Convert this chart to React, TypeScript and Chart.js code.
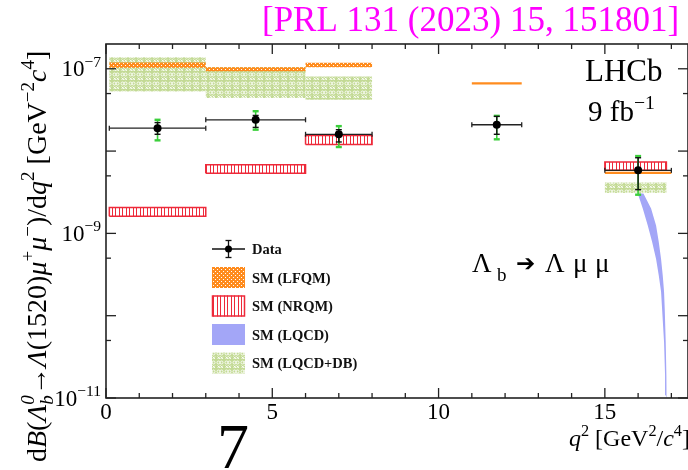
import React, { useEffect, useRef } from "react";
import { Chart, registerables } from "chart.js";

Chart.register(...registerables);

const W = 692;
const H = 470;
const SERIF = '"Liberation Serif", "DejaVu Serif", serif';

// q^2 binning of the measurement [GeV^2/c^4]
const binLo = [0.1, 3.0, 6.0, 11.0, 15.0];
const binHi = [3.0, 6.0, 8.0, 12.5, 17.0];
// measured dB/dq^2 with statistical and total uncertainties
const dataQ2 = [1.55, 4.5, 7.0, 11.75, 16.0];
const dataVal = [1.9e-8, 2.4e-8, 1.6e-8, 2.09e-8, 5.83e-9];
const statLo = [1.6e-8, 1.94e-8, 1.29e-8, 1.6e-8, 3.4e-9];
const statHi = [2.22e-8, 2.71e-8, 1.82e-8, 2.64e-8, 8.3e-9];
const totLo = [1.35e-8, 1.82e-8, 1.12e-8, 1.39e-8, 2.95e-9];
const totHi = [2.4e-8, 3.05e-8, 2.01e-8, 2.68e-8, 8.7e-9];

// SM (LFQM) bin predictions
const lfqmLo = [0.1, 3.0, 6.0, 11.0, 15.0];
const lfqmHi = [3.0, 6.0, 8.0, 12.5, 17.0];
const lfqmMin = [1.03e-7, 9.35e-8, 1.045e-7, 6.45e-8, 5.25e-9];
const lfqmMax = [1.19e-7, 1.046e-7, 1.18e-7, 6.85e-8, 5.6e-9];

// SM (NRQM) bin predictions
const nrqmLo = [0.1, 3.0, 6.0, 15.0];
const nrqmHi = [3.0, 6.0, 8.0, 16.85];
const nrqmMin = [1.61e-9, 5.36e-9, 1.2e-8, 5.83e-9];
const nrqmMax = [2.06e-9, 6.84e-9, 1.55e-8, 7.36e-9];

// SM (LQCD+DB) bin predictions
const dbLo = [0.1, 3.0, 6.0, 15.0];
const dbHi = [3.0, 6.0, 8.0, 16.85];
const dbMin = [5.3e-8, 4.4e-8, 4.21e-8, 3.09e-9];
const dbMax = [1.38e-7, 1.05e-7, 8.06e-8, 4.14e-9];

// SM (LQCD) band: upper and lower edges close to the kinematic endpoint
const lqcdUpQ2 = [15.99, 16.16, 16.39, 16.54, 16.62, 16.69, 16.74, 16.78, 16.8, 16.83, 16.85, 16.86];
const lqcdUp = [3.05e-9, 3.05e-9, 2.0e-9, 1.25e-9, 7.9e-10, 4.9e-10, 3.1e-10, 1.95e-10, 1.22e-10, 4.8e-11, 1.9e-11, 1.0e-11];
const lqcdLowQ2 = [15.99, 16.14, 16.29, 16.42, 16.54, 16.62, 16.69, 16.72, 16.78, 16.81, 16.83, 16.85];
const lqcdLow = [3.05e-9, 2.0e-9, 1.25e-9, 7.9e-10, 4.9e-10, 3.1e-10, 1.95e-10, 1.22e-10, 4.8e-11, 1.9e-11, 1.08e-11, 1.0e-11];

const xTickLabels = [0, 5, 10, 15];
const yLabelExps = [-11, -9, -7];
const legendLabels = ["Data", "SM (LFQM)", "SM (NRQM)", "SM (LQCD)", "SM (LQCD+DB)"];

const ORANGE = "#ff8c1e";
const RED = "#ee2a3a";
const BLUE = "#a3a6f7";
const GREEN = "#c3da95";
const ERR_GREEN = "#3bcf3b";

type Run = { t?: string; it?: boolean; up?: boolean; dn?: boolean; stack?: [string, string] };

const font = (size: number, it?: boolean, bold?: boolean) =>
  `${it ? "italic " : ""}${bold ? "bold " : ""}${size}px ${SERIF}`;

function rich(ctx: CanvasRenderingContext2D, runs: Run[], x: number, y: number, size: number, draw: boolean) {
  let cx = x;
  const small = size * 0.68;
  for (const r of runs) {
    if (r.stack) {
      ctx.font = font(small, r.it);
      const [lo, hi] = r.stack;
      const w = Math.max(ctx.measureText(lo).width, ctx.measureText(hi).width);
      if (draw) {
        ctx.fillText(lo, cx, y + size * 0.25);
        ctx.fillText(hi, cx, y - size * 0.42);
      }
      cx += w;
      continue;
    }
    const t = r.t || "";
    const s = r.up || r.dn ? small : size;
    ctx.font = font(s, r.it);
    if (draw) ctx.fillText(t, cx, y + (r.up ? -size * 0.42 : r.dn ? size * 0.25 : 0));
    cx += ctx.measureText(t).width;
  }
  return cx - x;
}

function tile(w: number, h: number, paint: (g: CanvasRenderingContext2D) => void) {
  const c = document.createElement("canvas");
  c.width = w;
  c.height = h;
  const g = c.getContext("2d")!;
  paint(g);
  return g.createPattern(c, "repeat")!;
}

function makePatterns() {
  const orange = tile(4, 4, (g) => {
    g.fillStyle = ORANGE;
    g.fillRect(0, 0, 4, 4);
    g.fillStyle = "#ffffff";
    g.fillRect(1, 1, 1, 1);
    g.fillRect(3, 3, 1, 1);
  });
  const red = tile(7, 1, (g) => {
    g.fillStyle = "#ffffff";
    g.fillRect(0, 0, 7, 1);
    g.fillStyle = RED;
    g.fillRect(0, 0, 1, 1);
    g.fillRect(3, 0, 1, 1);
  });
  const green = tile(8, 9, (g) => {
    g.fillStyle = GREEN;
    g.fillRect(0, 0, 8, 9);
    g.strokeStyle = "rgba(255,255,255,0.85)";
    g.lineWidth = 1;
    g.beginPath();
    g.arc(2.5, 2.5, 1.5, 0, Math.PI * 2);
    g.moveTo(7, 2.5);
    g.arc(5.5, 2.5, 1.5, 0, Math.PI * 2);
    g.moveTo(1.5, 5.5);
    g.lineTo(4, 8);
    g.moveTo(4, 5.5);
    g.lineTo(1.5, 8);
    g.moveTo(4.5, 5.5);
    g.lineTo(7, 8);
    g.moveTo(7, 5.5);
    g.lineTo(4.5, 8);
    g.stroke();
  });
  return { orange, red, green };
}

const rect = (x0: number, x1: number, y0: number, y1: number) => [
  { x: x0, y: y0 },
  { x: x1, y: y0 },
  { x: x1, y: y1 },
  { x: x0, y: y1 },
  { x: x0, y: y0 },
];

function boxSets(
  lo: number[],
  hi: number[],
  mn: number[],
  mx: number[],
  fill: (ratio: number) => any,
  border: string,
  bw: number,
  order: number
) {
  return lo.map((l, i) => ({
    type: "line",
    data: rect(l, hi[i], mn[i], mx[i]),
    fill: "shape",
    backgroundColor: fill(mx[i] / mn[i]),
    borderColor: border,
    borderWidth: bw,
    pointRadius: 0,
    tension: 0,
    order,
  }));
}

function line(ctx: CanvasRenderingContext2D, x0: number, y0: number, x1: number, y1: number) {
  ctx.beginPath();
  ctx.moveTo(x0, y0);
  ctx.lineTo(x1, y1);
  ctx.stroke();
}

function drawErrorBars(chart: any) {
  const { ctx } = chart;
  const xs = chart.scales.x;
  const ys = chart.scales.y;
  ctx.save();
  dataQ2.forEach((q, i) => {
    const px = xs.getPixelForValue(q);
    const py = ys.getPixelForValue(dataVal[i]);
    const xl = xs.getPixelForValue(binLo[i]);
    const xr = xs.getPixelForValue(binHi[i]);
    // bin width
    ctx.strokeStyle = "#222";
    ctx.lineWidth = 1.3;
    line(ctx, xl, py, xr, py);
    line(ctx, xl, py - 2.5, xl, py + 2.5);
    line(ctx, xr, py - 2.5, xr, py + 2.5);
    // total uncertainty
    const tHi = ys.getPixelForValue(totHi[i]);
    const tLo = ys.getPixelForValue(totLo[i]);
    ctx.strokeStyle = ERR_GREEN;
    ctx.lineWidth = 1.6;
    line(ctx, px, tHi, px, tLo);
    ctx.lineWidth = 2.4;
    line(ctx, px - 3, tHi, px + 3, tHi);
    line(ctx, px - 3, tLo, px + 3, tLo);
    // statistical uncertainty
    const sHi = ys.getPixelForValue(statHi[i]);
    const sLo = ys.getPixelForValue(statLo[i]);
    ctx.strokeStyle = "#111";
    ctx.lineWidth = 1.4;
    line(ctx, px, sHi, px, sLo);
    line(ctx, px - 3, sHi, px + 3, sHi);
    line(ctx, px - 3, sLo, px + 3, sLo);
  });
  ctx.restore();
}

function drawFrame(chart: any) {
  const { ctx, chartArea: a } = chart;
  const xs = chart.scales.x;
  const ys = chart.scales.y;
  ctx.save();
  ctx.strokeStyle = "#222";
  ctx.lineWidth = 1.3;
  for (let q = 0; q <= Math.floor(xs.max); q++) {
    const px = xs.getPixelForValue(q);
    const len = q % 5 === 0 ? 10 : 5;
    line(ctx, px, a.bottom, px, a.bottom - len);
    line(ctx, px, a.top, px, a.top + len);
  }
  for (let e = -11; e <= -7; e++) {
    for (const m of [1, 5]) {
      const v = m * Math.pow(10, e);
      if (v > ys.max) continue;
      const py = ys.getPixelForValue(v);
      const len = m === 1 ? 10 : 5;
      line(ctx, a.left, py, a.left + len, py);
      line(ctx, a.right, py, a.right - len, py);
    }
  }
  ctx.lineWidth = 1.6;
  ctx.strokeRect(a.left, a.top, a.right - a.left, a.bottom - a.top);
  ctx.restore();
}

function drawLegend(chart: any, pat: any) {
  const { ctx } = chart;
  ctx.save();
  const bx0 = 212;
  const bx1 = 245;
  legendLabels.forEach((label, i) => {
    const cy = 249 + i * 28.5;
    if (i === 0) {
      ctx.strokeStyle = "#111";
      ctx.lineWidth = 1.3;
      line(ctx, bx0, cy, bx1, cy);
      line(ctx, 228.5, cy - 8.5, 228.5, cy + 8.5);
      line(ctx, 225.5, cy - 8.5, 231.5, cy - 8.5);
      line(ctx, 225.5, cy + 8.5, 231.5, cy + 8.5);
      ctx.fillStyle = "#000";
      ctx.beginPath();
      ctx.arc(228.5, cy, 3.5, 0, Math.PI * 2);
      ctx.fill();
    } else {
      const y0 = cy - 10.5;
      const fills = [null, pat.orange, pat.red, BLUE, pat.green];
      ctx.fillStyle = fills[i];
      ctx.fillRect(bx0, y0, bx1 - bx0, 21);
      if (i === 2) {
        ctx.strokeStyle = RED;
        ctx.lineWidth = 1.5;
        ctx.strokeRect(bx0 + 0.5, y0 + 0.5, bx1 - bx0 - 1, 20);
      }
    }
    ctx.fillStyle = "#111";
    ctx.font = font(14.5, false, true);
    ctx.textAlign = "left";
    ctx.textBaseline = "alphabetic";
    ctx.fillText(label, 252, cy + 5);
  });
  ctx.restore();
}

function drawTexts(chart: any) {
  const { ctx } = chart;
  const xs = chart.scales.x;
  const ys = chart.scales.y;
  ctx.save();
  ctx.textAlign = "left";
  ctx.textBaseline = "alphabetic";
  ctx.fillStyle = "#000";

  // axis numbers
  for (const v of xTickLabels) {
    ctx.font = font(23);
    const t = String(v);
    const w = ctx.measureText(t).width;
    ctx.fillText(t, xs.getPixelForValue(v) - w / 2, 419);
  }
  for (const e of yLabelExps) {
    const py = ys.getPixelForValue(Math.pow(10, e));
    const runs: Run[] = [{ t: "10" }, { t: "\u2212" + Math.abs(e), up: true }];
    const w = rich(ctx, runs, 0, 0, 23, false);
    rich(ctx, runs, 101 - w, py + 7.5, 23, true);
  }

  // x title
  const xt: Run[] = [
    { t: "q", it: true },
    { t: "2", up: true },
    { t: " [GeV" },
    { t: "2", up: true },
    { t: "/" },
    { t: "c", it: true },
    { t: "4", up: true },
    { t: "]" },
  ];
  const xw = rich(ctx, xt, 0, 0, 24, false);
  rich(ctx, xt, 690 - xw, 446, 24, true);

  // y title
  const yt: Run[] = [
    { t: "d" },
    { t: "B", it: true },
    { t: "(" },
    { t: "\u039B", it: true },
    { stack: ["b", "0"], it: true },
    { t: "\u2192" },
    { t: "\u039B", it: true },
    { t: "(1520)" },
    { t: "\u03BC", it: true },
    { t: "+", up: true },
    { t: "\u03BC", it: true },
    { t: "\u2212", up: true },
    { t: ")/d" },
    { t: "q", it: true },
    { t: "2", up: true },
    { t: " [GeV" },
    { t: "\u22122", up: true },
    { t: "c", it: true },
    { t: "4", up: true },
    { t: "]" },
  ];
  ctx.save();
  ctx.translate(46, 462);
  ctx.rotate(-Math.PI / 2);
  rich(ctx, yt, 0, 0, 28, true);
  ctx.restore();

  // reference tag
  ctx.fillStyle = "#ff00ff";
  ctx.font = font(35);
  ctx.fillText("[PRL 131 (2023) 15, 151801]", 262, 31);

  // experiment label
  ctx.fillStyle = "#000";
  ctx.font = font(31);
  ctx.fillText("LHCb", 585, 81);
  rich(ctx, [{ t: "9 fb" }, { t: "\u22121", up: true }], 588, 121, 29, true);

  // decay label
  ctx.font = font(27);
  ctx.fillText("\u039B", 472, 272);
  ctx.font = font(19);
  ctx.fillText("b", 497, 281);
  ctx.font = `23px "DejaVu Sans", sans-serif`;
  ctx.fillText("\u2794", 516, 271);
  ctx.font = font(27);
  ctx.fillText("\u039B", 545, 272);
  ctx.fillText("\u03BC", 573, 272);
  ctx.fillText("\u03BC", 595, 272);

  // panel number
  ctx.font = font(64);
  ctx.fillText("7", 217, 468);
  ctx.restore();
}

export default function App() {
  const ref = useRef<HTMLCanvasElement>(null);

  useEffect(() => {
    document.body.style.margin = "0";
    document.body.style.overflow = "hidden";
    document.documentElement.style.overflow = "hidden";
    const canvas = ref.current!;
    const pat = makePatterns();

    const lqcdShape = [
      ...lqcdUpQ2.map((q, i) => ({ x: q, y: lqcdUp[i] })),
      ...lqcdLowQ2.map((q, i) => ({ x: q, y: lqcdLow[i] })).reverse(),
    ];

    // very thin LFQM bands are too narrow to show the dotted texture
    const lfqmFill = (ratio: number) => (ratio < 1.09 ? ORANGE : pat.orange);

    const datasets: any[] = [
      {
        type: "line",
        label: "Data",
        data: dataQ2.map((q, i) => ({ x: q, y: dataVal[i] })),
        showLine: false,
        pointRadius: 4,
        pointBackgroundColor: "#000",
        pointBorderColor: "#000",
        pointBorderWidth: 0,
        order: 0,
      },
      ...boxSets(lfqmLo, lfqmHi, lfqmMin, lfqmMax, lfqmFill, "rgba(0,0,0,0)", 0, 1),
      ...boxSets(nrqmLo, nrqmHi, nrqmMin, nrqmMax, () => pat.red, RED, 1.5, 2),
      ...boxSets(dbLo, dbHi, dbMin, dbMax, () => pat.green, "rgba(0,0,0,0)", 0, 3),
      {
        type: "line",
        data: lqcdShape,
        fill: "shape",
        backgroundColor: BLUE,
        borderColor: "rgba(0,0,0,0)",
        borderWidth: 0,
        pointRadius: 0,
        tension: 0,
        order: 4,
      },
    ];

    const decor = {
      id: "decor",
      beforeDatasetDraw(c: any, args: any) {
        if (args.index === 0) drawErrorBars(c);
      },
      afterDatasetsDraw(c: any) {
        drawFrame(c);
        drawLegend(c, pat);
      },
      afterDraw(c: any) {
        drawTexts(c);
      },
    };

    const chart = new Chart(canvas, {
      type: "line",
      data: { datasets },
      options: {
        responsive: false,
        maintainAspectRatio: false,
        animation: false,
        devicePixelRatio: 1,
        layout: { padding: { left: 106, top: 44, right: 2, bottom: 72 } },
        plugins: { legend: { display: false }, tooltip: { enabled: false } },
        events: [],
        scales: {
          x: { type: "linear", min: 0, max: 17.5, bounds: "data", display: false },
          y: { type: "logarithmic", min: 1e-11, max: 2e-7, bounds: "data", display: false },
        },
      },
      plugins: [decor],
    } as any);

    return () => chart.destroy();
  }, []);

  return <canvas ref={ref} width={W} height={H} style={{ display: "block", width: W, height: H }} />;
}
